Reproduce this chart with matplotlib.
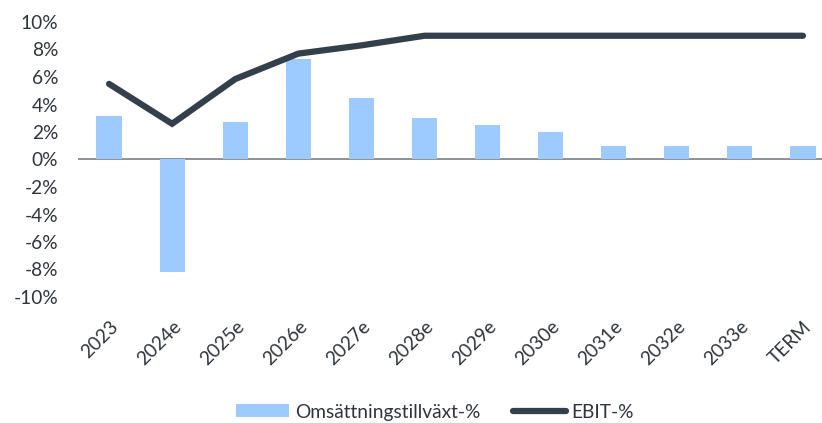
import numpy as np
import matplotlib.pyplot as plt
from matplotlib.ticker import FuncFormatter

# Omsättningstillväxt (bars) and EBIT-marginal (line), in percent
years = ["2023", "2024e", "2025e", "2026e", "2027e", "2028e",
         "2029e", "2030e", "2031e", "2032e", "2033e", "TERM"]
growth = [3.15, -8.2, 2.75, 7.3, 4.5, 3.0, 2.5, 2.0, 1.0, 1.0, 1.0, 1.0]
ebit = [5.5, 2.6, 5.85, 7.7, 8.3, 9.0, 9.0, 9.0, 9.0, 9.0, 9.0, 9.0]

bar_color = "#9dcaff"
line_color = "#333f4a"
text_color = "#2f353b"

plt.rcParams['font.family'] = ['Lato', 'DejaVu Sans']
plt.rcParams['font.size'] = 13.8

fig = plt.figure(figsize=(8.22, 4.23), dpi=100)
ax = fig.add_axes([77.5 / 822, 1 - 297 / 423, (834.5 - 77.5) / 822, (297 - 22) / 423])

x = np.arange(len(years))
bars = ax.bar(x, growth, width=0.4, color=bar_color, label="Omsättningstillväxt-%", zorder=2)
line, = ax.plot(x, ebit, color=line_color, linewidth=4.5, solid_capstyle="round",
                solid_joinstyle="miter", label="EBIT-%", zorder=3)
ax.axhline(0, color="#8b9299", linewidth=1.4, zorder=1)

ax.set_xlim(-0.5, len(years) - 0.5)
ax.set_ylim(-10, 10)
ax.set_yticks(np.arange(-10, 11, 2))
ax.yaxis.set_major_formatter(FuncFormatter(lambda v, _: f"{v:.0f}%"))
ax.set_xticks(x)
ax.set_xticklabels(years, rotation=45, ha="right", va="top", rotation_mode="anchor")

ax.tick_params(axis="both", length=0, colors=text_color)
ax.tick_params(axis="y", pad=14)
ax.tick_params(axis="x", pad=15)
for s in ax.spines.values():
    s.set_visible(False)

fig.legend(handles=[bars, line], loc="center",
           bbox_to_anchor=(435 / 822, 1 - 412 / 423), ncol=2,
           frameon=False, handlelength=2.77, handleheight=0.64,
           handletextpad=0.3, columnspacing=1.7, labelcolor=text_color)

fig.savefig("out.png", dpi=100)
